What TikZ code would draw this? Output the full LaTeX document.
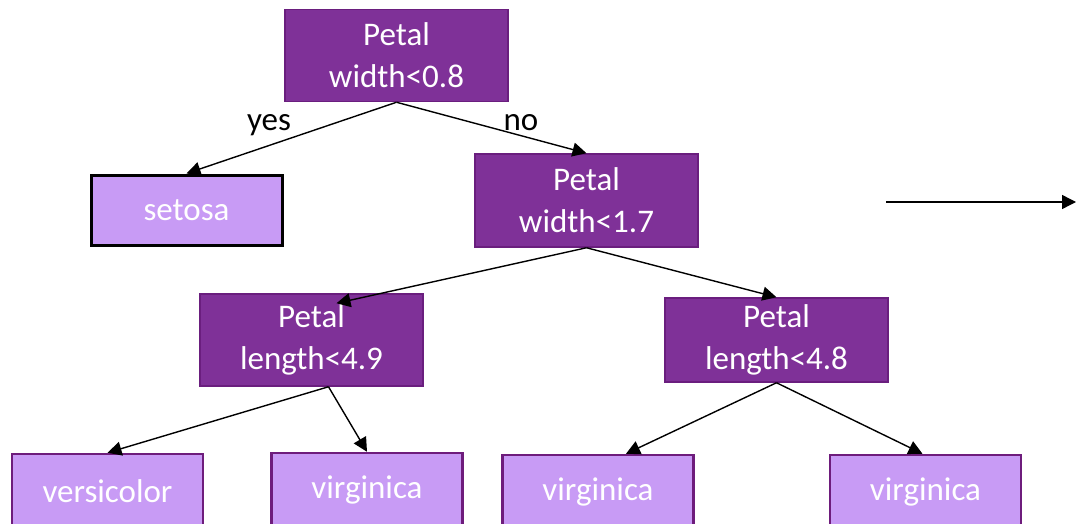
\documentclass[tikz,border=0pt]{standalone}
\usepackage{fontspec}
\setmainfont{Carlito}
\usetikzlibrary{arrows.meta}

\definecolor{splitfill}{HTML}{7F3198}
\definecolor{splitline}{HTML}{6A1E7E}
\definecolor{leaffill}{HTML}{C89BF5}
\definecolor{leafline}{HTML}{6E1C7C}

\tikzset{
  splitbox/.style={draw=splitline, line width=1.5pt, fill=splitfill, text=white,
    minimum width=223pt, inner sep=0pt, align=center,
    font=\fontsize{33}{42}\selectfont},
  leafbox/.style={draw=leafline, line width=2.5pt, fill=leaffill, text=white,
    minimum width=191pt, inner sep=0pt, font=\fontsize{33}{40}\selectfont},
  edge/.style={line width=1.4pt, -{Triangle[length=14pt,width=14pt]}},
  lbl/.style={font=\fontsize{33}{40}\selectfont, anchor=base, inner sep=0pt}
}

\begin{document}
\begin{tikzpicture}[x=1pt, y=-1pt]
\useasboundingbox (0,0) rectangle (1076,524);

% internal splits
\node[splitbox, minimum height=92pt] (root) at (396.5,55.5) {Petal\\width<0.8};
\node[splitbox, minimum height=93pt] (pw) at (586.5,200.5) {Petal\\width<1.7};
\node[splitbox, minimum height=92pt] (plA) at (311.5,340) {Petal\\length<4.9};
\node[splitbox, minimum height=84pt] (plB) at (776.5,340) {Petal\\length<4.8};

% leaves
\node[leafbox, draw=black, line width=3pt, minimum height=70pt] (setosa) at (186.5,210) {setosa};
\node[leafbox, minimum height=74pt] (vers) at (107.5,491) {versicolor};
\node[leafbox, minimum height=74pt] (virA) at (367,490) {virginica};
\node[leafbox, minimum height=74pt] (virB) at (598,492) {virginica};
\node[leafbox, minimum height=74pt] (virC) at (925.5,492) {virginica};

% branch labels
\node[lbl] (yes) at (269,131) {yes};
\node[lbl] (no) at (521,131) {no};

% connectors
\draw[edge] (root.south) -- (setosa.north);
\draw[edge] (root.south) -- (pw.north);
\draw[edge] (pw.south) -- ([xshift=25pt,yshift=-10pt]plA.north);
\draw[edge] (pw.south) -- (plB.north);
\draw[edge] ([xshift=17pt]plA.south) -- (vers.north);
\draw[edge] ([xshift=17pt]plA.south) -- (virA.north);
\draw[edge] (plB.south) -- ([xshift=28pt]virB.north);
\draw[edge] (plB.south) -- ([xshift=-3pt]virC.north);

% free arrow on the right
\coordinate (fromA) at (886,202);
\coordinate (toA) at (1076,202);
\draw[edge] (fromA) -- (toA);
\end{tikzpicture}
\end{document}
